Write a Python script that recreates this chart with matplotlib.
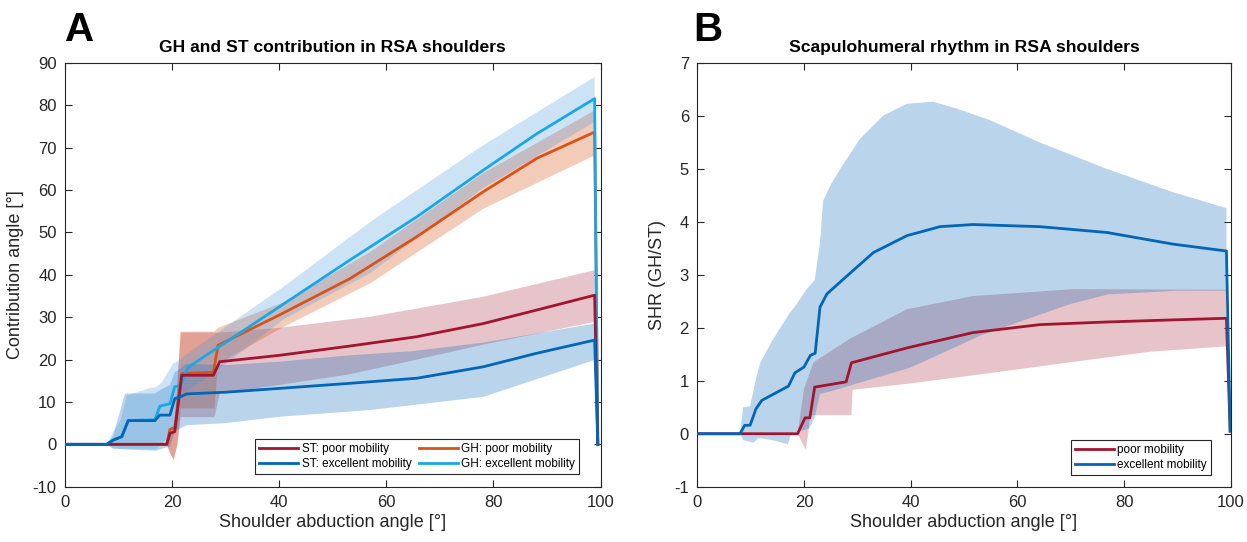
import numpy as np
import matplotlib
matplotlib.use("Agg")
import matplotlib.pyplot as plt

plt.rcParams['font.family'] = ['Liberation Sans', 'DejaVu Sans']
plt.rcParams['axes.unicode_minus'] = False

# ---------------- Panel A data (shoulder abduction angle [deg] -> contribution angle [deg]) ----------------
st_poor_x = [0, 19.0, 19.6, 20.5, 21.8, 27.7, 28.9, 40, 53.2, 65.7, 78.1, 88.1, 98.9, 99.5]
st_poor_y = [0, 0, 2.6, 3.0, 16.3, 16.3, 19.5, 21.0, 23.2, 25.4, 28.5, 31.7, 35.2, 0]
st_poor_up_x = [19.0, 19.6, 20.5, 21.6, 27.9, 28.3, 40, 57, 78, 98.9]
st_poor_up_y = [0, 2.0, 4.0, 26.4, 26.4, 26.3, 27.5, 30.1, 34.8, 41.1]
st_poor_lo_x = [19.0, 19.6, 20.3, 21.0, 21.6, 27.9, 28.9, 40, 53, 65, 78, 98.9]
st_poor_lo_y = [0, -2.0, -3.5, 0.0, 6.4, 6.4, 12.0, 14.0, 16.5, 19.8, 23.5, 28.9]

gh_poor_x = [0, 19.0, 19.6, 20.5, 21.8, 27.7, 28.6, 40, 53.2, 65.7, 78.1, 88.1, 98.9, 99.5]
gh_poor_y = [0, 0, 3.5, 4.0, 16.7, 17.0, 23.4, 30.5, 39.1, 49.0, 59.6, 67.5, 73.7, 0]
gh_poor_up_x = [19.0, 19.6, 20.5, 21.6, 27.9, 28.6, 40.8, 57, 78.1, 98.9]
gh_poor_up_y = [0, 2.0, 5.0, 26.6, 26.6, 27.5, 33.5, 45.4, 64.0, 78.8]
gh_poor_lo_x = [19.0, 19.6, 20.3, 21.0, 21.6, 27.9, 28.6, 40.8, 57, 78.1, 98.9]
gh_poor_lo_y = [0, -2.0, -3.8, 0.0, 8.5, 8.5, 19.0, 27.7, 38.0, 55.6, 68.2]

st_exc_x = [0, 7.8, 9.0, 10.6, 11.8, 16.8, 17.7, 19.6, 20.5, 21.5, 22.7, 30, 40, 53.2, 65.7, 78.1, 88.1, 98.9, 99.5]
st_exc_y = [0, 0, 1.0, 1.8, 5.6, 5.6, 6.9, 6.9, 10.8, 11.2, 11.9, 12.3, 13.2, 14.4, 15.6, 18.3, 21.5, 24.6, 0]
st_exc_up_x = [7.8, 9.0, 11.2, 16.8, 18.0, 19.6, 20.5, 22.7, 30, 40, 53, 65, 78, 98.9]
st_exc_up_y = [0, 2.0, 12.0, 12.0, 13.0, 14.0, 17.0, 19.0, 18.7, 19.5, 21.0, 22.0, 24.0, 28.5]
st_exc_lo_x = [7.8, 9.0, 11.0, 17.0, 19.6, 20.5, 22.7, 30, 40, 57, 78.1, 98.9]
st_exc_lo_y = [0, -1.0, -1.2, -1.5, -0.5, 3.0, 4.5, 5.0, 6.5, 8.1, 11.2, 19.9]

gh_exc_x = [0, 7.8, 9.0, 10.6, 11.8, 16.8, 17.7, 19.6, 20.5, 21.5, 23.0, 47.6, 53.2, 65.7, 78.1, 88.1, 98.9, 99.5]
gh_exc_y = [0, 0, 1.0, 1.8, 5.6, 5.8, 9.0, 9.6, 13.6, 13.8, 18.2, 38.8, 43.5, 53.7, 64.7, 73.3, 81.6, 0]
gh_exc_up_x = [7.8, 9.0, 10.5, 11.5, 15.9, 17.0, 18.0, 20.2, 20.9, 22.1, 28.3, 40.8, 57, 78.1, 98.9]
gh_exc_up_y = [0, 3.0, 6.0, 11.5, 13.3, 13.5, 14.5, 19.1, 19.5, 20.7, 26.2, 37.2, 52.5, 70.6, 86.7]
gh_exc_lo_x = [7.8, 9.0, 17.0, 18.0, 20.0, 22.0, 28.0, 40.8, 57, 78.1, 98.9]
gh_exc_lo_y = [0, -1.0, -1.2, 0.0, 3.0, 12.0, 17.0, 29.5, 40.4, 60.5, 76.1]

# ---------------- Panel B data (SHR = GH/ST) ----------------
shr_poor_x = [0, 18.8, 20.2, 21.1, 22.0, 27.9, 28.9, 39.3, 51.7, 64.2, 76.8, 89.2, 99.2, 99.9]
shr_poor_y = [0, 0, 0.30, 0.30, 0.88, 0.98, 1.34, 1.62, 1.91, 2.06, 2.11, 2.15, 2.18, 0.05]
shr_poor_up_x = [18.8, 19.5, 20.0, 21.8, 28.7, 39.3, 51.7, 70.5, 99.2]
shr_poor_up_y = [0, 0.5, 0.85, 1.35, 1.80, 2.35, 2.60, 2.73, 2.72]
shr_poor_lo_x = [18.8, 19.8, 20.3, 20.8, 21.1, 28.9, 29.1, 40, 53, 70, 85, 99.2]
shr_poor_lo_y = [0, -0.2, -0.3, 0.0, 0.35, 0.35, 0.83, 0.95, 1.12, 1.35, 1.55, 1.65]

shr_exc_x = [0, 8.0, 8.9, 9.9, 11.0, 12.1, 17.1, 18.3, 20.0, 21.2, 22.1, 23.0, 24.3, 27.4, 33.0, 39.3,
             45.5, 51.7, 64.2, 76.8, 89.2, 99.2, 99.9]
shr_exc_y = [0, 0, 0.16, 0.16, 0.47, 0.63, 0.90, 1.15, 1.26, 1.48, 1.52, 2.39, 2.64, 2.92, 3.42, 3.74,
             3.91, 3.95, 3.91, 3.80, 3.58, 3.45, 0.05]
shr_exc_up_x = [8.0, 8.6, 9.9, 11.1, 11.8, 14.0, 17.4, 18.3, 20.5, 22.0, 23.0, 23.6, 25.0, 26.8, 30.5,
                34.9, 39.3, 44.2, 48.6, 54.9, 64.2, 76.8, 89.2, 99.2]
shr_exc_up_y = [0, 0.5, 0.52, 1.08, 1.34, 1.75, 2.29, 2.40, 2.73, 2.90, 3.60, 4.40, 4.70, 5.00, 5.57,
                6.01, 6.23, 6.27, 6.14, 5.92, 5.50, 5.00, 4.56, 4.26]
shr_exc_lo_x = [8.0, 8.6, 10.5, 11.5, 14.0, 17.0, 17.6, 21.0, 22.0, 23.0, 25.0, 30, 40, 47.4, 53, 60,
                70, 77, 90, 99.2]
shr_exc_lo_y = [0, -0.12, -0.17, -0.08, -0.12, -0.20, 0.0, 0.10, 0.30, 0.75, 0.80, 0.95, 1.25, 1.59,
                1.85, 2.10, 2.45, 2.63, 2.70, 2.70]

c_st_poor = '#A2142F'
c_gh_poor = '#D95319'
c_st_exc = '#0066B8'
c_gh_exc = '#1AA7E6'
axc = '#262626'

fig = plt.figure(figsize=(12.47, 5.42), dpi=100)
axA = fig.add_axes([65 / 1247, 1 - 486.7 / 542, 535.5 / 1247, 423.7 / 542])
axB = fig.add_axes([697.3 / 1247, 1 - 486.7 / 542, 533.4 / 1247, 423.7 / 542])


def band(ax, xu, yu, xl, yl, color, alpha):
    px = np.concatenate([np.asarray(xu, float), np.asarray(xl, float)[::-1]])
    py = np.concatenate([np.asarray(yu, float), np.asarray(yl, float)[::-1]])
    ax.fill(px, py, color=color, alpha=alpha, lw=0, zorder=1)


# Panel A bands
band(axA, st_poor_up_x, st_poor_up_y, st_poor_lo_x, st_poor_lo_y, c_st_poor, 0.25)
band(axA, gh_poor_up_x, gh_poor_up_y, gh_poor_lo_x, gh_poor_lo_y, c_gh_poor, 0.30)
band(axA, st_exc_up_x, st_exc_up_y, st_exc_lo_x, st_exc_lo_y, c_st_exc, 0.27)
band(axA, gh_exc_up_x, gh_exc_up_y, gh_exc_lo_x, gh_exc_lo_y, '#3793DF', 0.25)

lw = 2.0
l3, = axA.plot(gh_poor_x, gh_poor_y, color=c_gh_poor, lw=lw, zorder=3)
l4, = axA.plot(gh_exc_x, gh_exc_y, color=c_gh_exc, lw=lw, zorder=3)
l1, = axA.plot(st_poor_x, st_poor_y, color=c_st_poor, lw=lw, zorder=3)
l2, = axA.plot(st_exc_x, st_exc_y, color=c_st_exc, lw=lw, zorder=3)

# Panel B bands
band(axB, shr_poor_up_x, shr_poor_up_y, shr_poor_lo_x, shr_poor_lo_y, c_st_poor, 0.25)
band(axB, shr_exc_up_x, shr_exc_up_y, shr_exc_lo_x, shr_exc_lo_y, c_st_exc, 0.27)
m1, = axB.plot(shr_poor_x, shr_poor_y, color=c_st_poor, lw=lw, zorder=3)
m2, = axB.plot(shr_exc_x, shr_exc_y, color=c_st_exc, lw=lw, zorder=3)

for ax in (axA, axB):
    ax.set_xlim(0, 100)
    ax.set_xticks(np.arange(0, 101, 20))
    ax.tick_params(direction='in', top=True, right=True, length=5, width=0.8,
                   labelsize=12, colors=axc, pad=6)
    for s in ax.spines.values():
        s.set_color(axc)
        s.set_linewidth(0.8)
    ax.set_xlabel('Shoulder abduction angle [°]', fontsize=13, color=axc, labelpad=3)

axA.set_ylim(-10, 90)
axA.set_yticks(np.arange(-10, 91, 10))
axB.set_ylim(-1, 7)
axB.set_yticks(np.arange(-1, 8, 1))

axA.set_ylabel('Contribution angle [°]', fontsize=13, color=axc, labelpad=6)
axB.set_ylabel('SHR (GH/ST)', fontsize=13, color=axc, labelpad=6)

axA.set_title('GH and ST contribution in RSA shoulders', fontsize=12.6, fontweight='bold', pad=8)
axB.set_title('Scapulohumeral rhythm in RSA shoulders', fontsize=12.6, fontweight='bold', pad=8)

legA = axA.legend([l1, l2, l3, l4],
                  ['ST: poor mobility', 'ST: excellent mobility', 'GH: poor mobility', 'GH: excellent mobility'],
                  ncol=2, loc='lower right', bbox_to_anchor=(0.96, 0.03), borderaxespad=0,
                  fontsize=8.5, frameon=True, fancybox=False, handlelength=3.3, handletextpad=0.3,
                  columnspacing=0.6, borderpad=0.35, labelspacing=0.2)
legB = axB.legend([m1, m2], ['poor mobility', 'excellent mobility'],
                  loc='lower right', bbox_to_anchor=(0.963, 0.028), borderaxespad=0,
                  fontsize=8.5, frameon=True, fancybox=False, handlelength=3.3, handletextpad=0.3,
                  borderpad=0.35, labelspacing=0.2)
for leg in (legA, legB):
    leg.get_frame().set_edgecolor(axc)
    leg.get_frame().set_linewidth(0.8)
    leg.get_frame().set_alpha(1)

fig.text(65 / 1247, 1 - 30 / 542, 'A', fontsize=29, fontweight='bold', va='center', ha='left')
fig.text(693 / 1247, 1 - 30 / 542, 'B', fontsize=29, fontweight='bold', va='center', ha='left')

fig.savefig('out.png', dpi=100)
